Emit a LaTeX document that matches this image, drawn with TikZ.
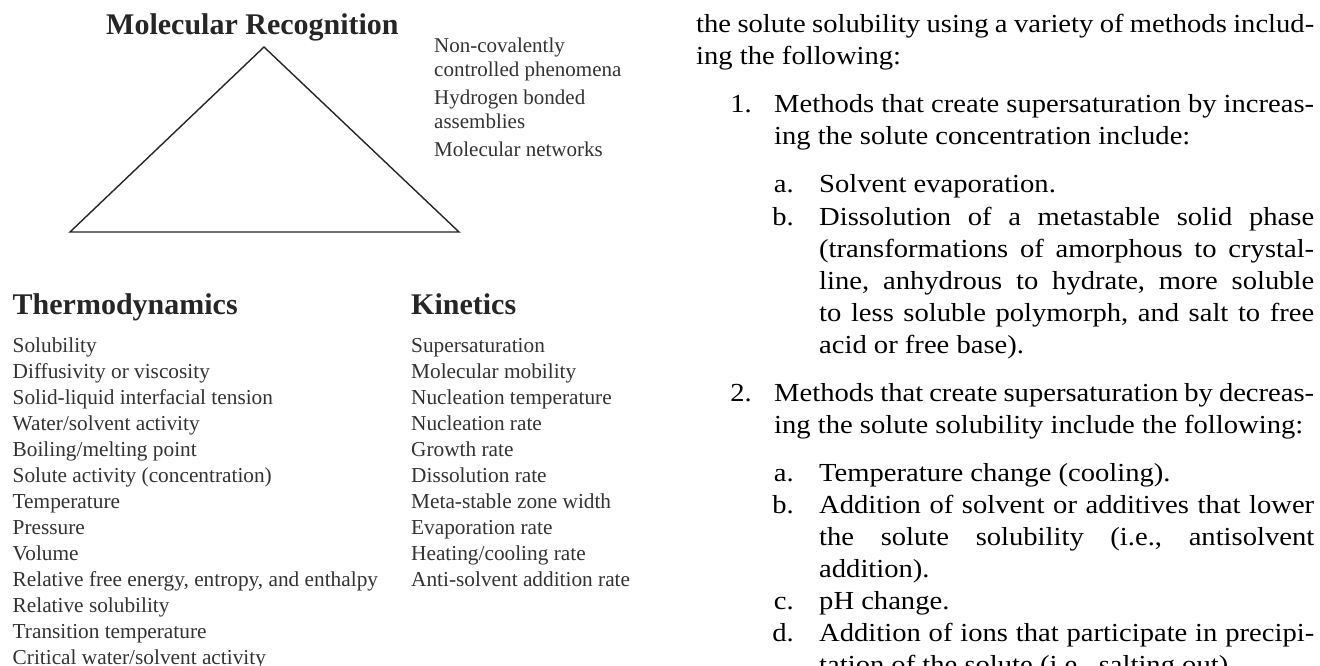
\documentclass[tikz,border=0pt]{standalone}
\usepackage{fontspec}
\setmainfont{Liberation Serif}
\newfontfamily\bodyfont{Liberation Serif}[FakeStretch=1.1]
\usetikzlibrary{positioning}
\frenchspacing

\tikzset{
  heading/.style={anchor=base west, inner sep=0pt, text=black!85, font={\fontsize{30}{36}\selectfont\bfseries}},
  listitem/.style={inner sep=0pt, text height=18.6pt, text depth=7pt, text=black!80, font={\fontsize{21.3}{25.6}\selectfont}, anchor=north west},
  mritem/.style={inner sep=0pt, text height=16pt, text depth=7pt, text=black!80, font={\fontsize{21}{23}\selectfont}, anchor=north west},
  bodyline/.style={anchor=base west, inner sep=0pt, font={\bodyfont\fontsize{26}{32}\selectfont}},
  bodylabel/.style={anchor=base east, inner sep=0pt, font={\bodyfont\fontsize{26}{32}\selectfont}},
  tri/.style={draw=black!85, line width=1.4pt}
}

\begin{document}
\begin{tikzpicture}[x=1pt,y=-1pt]
\fill[white] (0,0) rectangle (1320,666);
\useasboundingbox (0,0) rectangle (1320,666);

% molecular recognition
\node[heading] (molrec) at (106,35) {Molecular Recognition};
\draw[tri] (70,232) coordinate (tl) -- (264,47) coordinate (ta) -- (459,232) coordinate (tr) -- cycle;

\node[mritem, anchor=base west] (mr1) at (434,53) {Non-covalently};
\node[below=0pt of mr1.south west, mritem] (mr2) {controlled phenomena};
\node[below=5pt of mr2.south west, mritem] (mr3) {Hydrogen bonded};
\node[below=0pt of mr3.south west, mritem] (mr4) {assemblies};
\node[below=5pt of mr4.south west, mritem] (mr5) {Molecular networks};

% thermodynamics
\node[heading] (thermo) at (12.5,314) {Thermodynamics};
\node[listitem, anchor=base west] (th1) at (12.5,352) {Solubility};
\node[below=0pt of th1.south west, listitem] (th2) {Diffusivity or viscosity};
\node[below=0pt of th2.south west, listitem] (th3) {Solid-liquid interfacial tension};
\node[below=0pt of th3.south west, listitem] (th4) {Water/solvent activity};
\node[below=0pt of th4.south west, listitem] (th5) {Boiling/melting point};
\node[below=0pt of th5.south west, listitem] (th6) {Solute activity (concentration)};
\node[below=0pt of th6.south west, listitem] (th7) {Temperature};
\node[below=0pt of th7.south west, listitem] (th8) {Pressure};
\node[below=0pt of th8.south west, listitem] (th9) {Volume};
\node[below=0pt of th9.south west, listitem] (th10) {Relative free energy, entropy, and enthalpy};
\node[below=0pt of th10.south west, listitem] (th11) {Relative solubility};
\node[below=0pt of th11.south west, listitem] (th12) {Transition temperature};
\node[below=0pt of th12.south west, listitem] (th13) {Critical water/solvent activity};

% kinetics
\node[heading] (kin) at (411,314) {Kinetics};
\node[listitem, anchor=base west] (ki1) at (411,352) {Supersaturation};
\node[below=0pt of ki1.south west, listitem] (ki2) {Molecular mobility};
\node[below=0pt of ki2.south west, listitem] (ki3) {Nucleation temperature};
\node[below=0pt of ki3.south west, listitem] (ki4) {Nucleation rate};
\node[below=0pt of ki4.south west, listitem] (ki5) {Growth rate};
\node[below=0pt of ki5.south west, listitem] (ki6) {Dissolution rate};
\node[below=0pt of ki6.south west, listitem] (ki7) {Meta-stable zone width};
\node[below=0pt of ki7.south west, listitem] (ki8) {Evaporation rate};
\node[below=0pt of ki8.south west, listitem] (ki9) {Heating/cooling rate};
\node[below=0pt of ki9.south west, listitem] (ki10) {Anti-solvent addition rate};

% body text
\node[bodyline] (p1) at (696,33) {\makebox[618pt][s]{the solute solubility using a variety of methods includ-}};
\node[bodyline] (p2) at (696,65) {ing the following:};

\node[bodyline] (m1a) at (774,113) {\makebox[540pt][s]{Methods that create supersaturation by increas-}};
\node[bodylabel] (n1) at (752,113) {1.};
\node[bodyline] (m1b) at (774,145) {ing the solute concentration include:};

\node[bodyline] (s1a) at (819,193) {Solvent evaporation.};
\node[bodylabel] (l1a) at (794,193) {a.};
\node[bodyline] (s1b) at (819,225) {\makebox[495pt][s]{Dissolution of a metastable solid phase}};
\node[bodylabel] (l1b) at (794,225) {b.};
\node[bodyline] (s1c) at (819,257) {\makebox[495pt][s]{(transformations of amorphous to crystal-}};
\node[bodyline] (s1d) at (819,289) {\makebox[495pt][s]{line, anhydrous to hydrate, more soluble}};
\node[bodyline] (s1e) at (819,321) {\makebox[495pt][s]{to less soluble polymorph, and salt to free}};
\node[bodyline] (s1f) at (819,353) {acid or free base).};

\node[bodyline] (m2a) at (774,401) {\makebox[540pt][s]{Methods that create supersaturation by decreas-}};
\node[bodylabel] (n2) at (752,401) {2.};
\node[bodyline] (m2b) at (774,433) {ing the solute solubility include the following:};

\node[bodyline] (s2a) at (819,481) {Temperature change (cooling).};
\node[bodylabel] (l2a) at (794,481) {a.};
\node[bodyline] (s2b) at (819,513) {\makebox[495pt][s]{Addition of solvent or additives that lower}};
\node[bodylabel] (l2b) at (794,513) {b.};
\node[bodyline] (s2c) at (819,545) {\makebox[495pt][s]{the solute solubility (i.e., antisolvent}};
\node[bodyline] (s2d) at (819,577) {addition).};
\node[bodyline] (s2e) at (819,609) {pH change.};
\node[bodylabel] (l2c) at (794,609) {c.};
\node[bodyline] (s2f) at (819,641) {\makebox[495pt][s]{Addition of ions that participate in precipi-}};
\node[bodylabel] (l2d) at (794,641) {d.};
\node[bodyline] (s2g) at (819,673) {tation of the solute (i.e., salting out).};
\end{tikzpicture}
\end{document}
